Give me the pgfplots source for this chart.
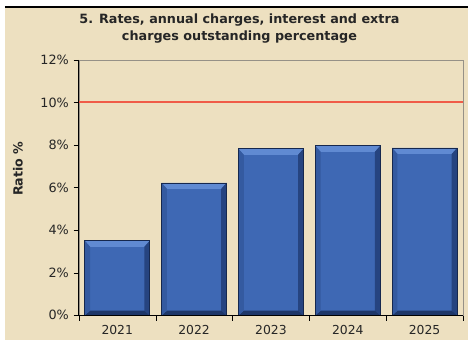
\documentclass[border=0pt]{standalone}
\usepackage{pgfplots}
\pgfplotsset{compat=1.18}
\usepackage{fontspec}
\setmainfont{DejaVu Sans}
\definecolor{parch}{RGB}{237,224,192}
\definecolor{barblue}{RGB}{62,104,180}
\definecolor{barlight}{RGB}{96,138,210}
\definecolor{barshade}{RGB}{38,68,128}
\definecolor{barbottom}{RGB}{30,55,105}
\definecolor{barleft}{RGB}{52,90,160}
\definecolor{bardark}{RGB}{22,40,78}
\definecolor{redline}{RGB}{240,92,72}
\definecolor{frameg}{RGB}{150,145,135}
\newcommand\ppa[3]{\pgfpointadd{\pgfpointanchor{path picture bounding box}{#1}}{\pgfpoint{#2}{#3}}}
\newcommand\quadfill[5]{\pgfsetfillcolor{#1}\pgfpathmoveto{#2}\pgfpathlineto{#3}\pgfpathlineto{#4}\pgfpathlineto{#5}\pgfpathclose\pgfusepath{fill}}
\tikzset{bevel/.style={path picture={%
  \quadfill{barlight}{\ppa{north west}{0pt}{0pt}}{\ppa{north east}{0pt}{0pt}}{\ppa{north east}{-4pt}{-4.5pt}}{\ppa{north west}{4pt}{-4.5pt}}%
  \quadfill{barshade}{\ppa{north east}{0pt}{0pt}}{\ppa{south east}{0pt}{0pt}}{\ppa{south east}{-4pt}{3.5pt}}{\ppa{north east}{-4pt}{-4.5pt}}%
  \quadfill{barbottom}{\ppa{south west}{0pt}{0pt}}{\ppa{south east}{0pt}{0pt}}{\ppa{south east}{-4pt}{3.5pt}}{\ppa{south west}{4pt}{3.5pt}}%
  \quadfill{barleft}{\ppa{north west}{0pt}{0pt}}{\ppa{south west}{0pt}{0pt}}{\ppa{south west}{4pt}{3.5pt}}{\ppa{north west}{4pt}{-4.5pt}}%
}}}
\begin{document}
\begin{tikzpicture}[x=0.75pt,y=0.75pt]
\fill[white] (0,0) rectangle (469,345);
\fill[parch] (5,4) rectangle (469,337);
\draw[black, line width=1.5pt] (5,337.5) -- (469,337.5);
\node[align=center, font=\bfseries\fontsize{9.6}{12.3}\selectfont, text=black!85] at (240,316.5)
  {5. Rates, annual charges, interest and extra\\charges outstanding percentage};
\node[rotate=90, font=\bfseries\fontsize{9.5}{11}\selectfont, text=black!85] at (18,176) {Ratio \%};
\begin{axis}[
  at={(59.25pt,21.75pt)}, anchor=south west,
  scale only axis, width=288.75pt, height=192pt,
  xmin=-0.5, xmax=4.5, ymin=0, ymax=12,
  ytick={0,2,...,12},
  yticklabel={\pgfmathprintnumber{\tick}\%},
  xtick={0,1,2,3,4},
  xticklabels={2021,2022,2023,2024,2025},
  major x tick style={draw=none},
  minor xtick={-0.5,0.5,1.5,2.5,3.5,4.5},
  minor x tick style={black},
  minor tick length=4pt,
  major tick length=4pt,
  tick align=outside,
  xtick pos=bottom, ytick pos=left,
  y tick style={black},
  axis line style={frameg},
  xticklabel style={font=\fontsize{9.3}{11}\selectfont, text=black!85},
  yticklabel style={font=\fontsize{9.6}{11}\selectfont, text=black!85},
  /pgf/number format/assume math mode=true,
  ybar, bar width=48.75pt, bar shift=0pt,
  clip=false,
  every axis plot/.append style={fill=barblue, draw=bardark, line width=0.6pt},
]
\addplot[bevel] coordinates {(0,3.5)};
\addplot[bevel] coordinates {(1,6.22)};
\addplot[bevel] coordinates {(2,7.82)};
\addplot[bevel] coordinates {(3,7.96)};
\addplot[bevel] coordinates {(4,7.86)};
\addplot[sharp plot, fill=none, draw=redline, line width=1.5pt] coordinates {(-0.5,10) (4.5,10)};
\draw[black, line width=0.8pt] (rel axis cs:0,1) -- (rel axis cs:0,0) -- (rel axis cs:1,0);
\end{axis}
\end{tikzpicture}
\end{document}
